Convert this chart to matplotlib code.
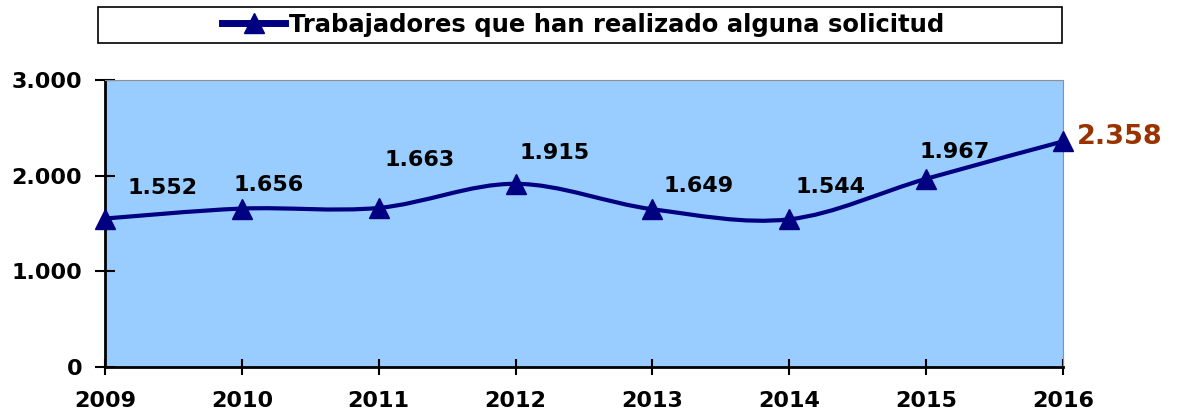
import numpy as np
import matplotlib.pyplot as plt
from matplotlib.path import Path
from matplotlib.patches import PathPatch, Rectangle
from matplotlib.lines import Line2D
from matplotlib.ticker import FuncFormatter

years = [2009, 2010, 2011, 2012, 2013, 2014, 2015, 2016]
values = [1552, 1656, 1663, 1915, 1649, 1544, 1967, 2358]
labels = ['1.552', '1.656', '1.663', '1.915', '1.649', '1.544', '1.967', '2.358']
series_name = 'Trabajadores que han realizado alguna solicitud'

navy = '#000080'
fig = plt.figure(figsize=(11.79, 4.17), dpi=100)
ax = fig.add_axes([105/1179, 1-367/417, (1063-105)/1179, (367-80)/417])
ax.set_facecolor('#99CCFF')

# smoothed line like excel (catmull-rom -> bezier)
pts = np.column_stack([years, values]).astype(float)
verts = [pts[0]]
codes = [Path.MOVETO]
for i in range(len(pts) - 1):
    p0 = pts[max(i - 1, 0)]
    p1 = pts[i]
    p2 = pts[i + 1]
    p3 = pts[min(i + 2, len(pts) - 1)]
    c1 = p1 + (p2 - p0) / 6
    c2 = p2 - (p3 - p1) / 6
    verts += [c1, c2, p2]
    codes += [Path.CURVE4] * 3
ax.add_patch(PathPatch(Path(verts, codes), fill=False, edgecolor=navy, lw=3, clip_on=False, zorder=3))
ax.plot(years, values, ls='none', marker='^', ms=15, color=navy, clip_on=False, zorder=4)

# data labels
offsets = [(58, 31), (27, 24), (41, 48), (39, 31), (46, 23), (41, 32), (28, 27), (57, 4)]
for i, (x, y) in enumerate(zip(years, values)):
    col = '#993300' if i == len(years) - 1 else 'black'
    fs = 19.5 if i == len(years) - 1 else 16
    ax.annotate(labels[i], (x, y), xytext=offsets[i], textcoords='offset pixels',
                ha='center', va='center', fontsize=fs, fontweight='bold', color=col,
                annotation_clip=False)

ax.set_xlim(2009, 2016)
ax.set_ylim(0, 3000)
ax.set_xticks(years)
ax.set_yticks([0, 1000, 2000, 3000])
ax.yaxis.set_major_formatter(FuncFormatter(lambda v, p: f'{int(v):,}'.replace(',', '.')))
ax.tick_params(axis='both', direction='inout', width=1.5, labelsize=16)
ax.tick_params(axis='y', length=15, pad=9)
ax.tick_params(axis='x', length=12, pad=11)
for lab in ax.get_xticklabels() + ax.get_yticklabels():
    lab.set_fontweight('bold')
ax.spines['left'].set_linewidth(2)
ax.spines['bottom'].set_linewidth(2)
ax.spines['top'].set_color('#909090')
ax.spines['right'].set_color('#909090')

# legend box
fig.patches.append(Rectangle((98/1179, 1-43/417), (1062-98)/1179, 36/417,
                             transform=fig.transFigure, facecolor='white', edgecolor='black', lw=1.2))
handle = Line2D([], [], color=navy, lw=5, marker='^', ms=15)
fig.legend([handle], [series_name], loc='center', bbox_to_anchor=(583/1179, 1-25/417),
           frameon=False, prop={'weight': 'bold', 'size': 17.5}, handlelength=2.6, handletextpad=0.15)

fig.savefig('out.png', dpi=100)
